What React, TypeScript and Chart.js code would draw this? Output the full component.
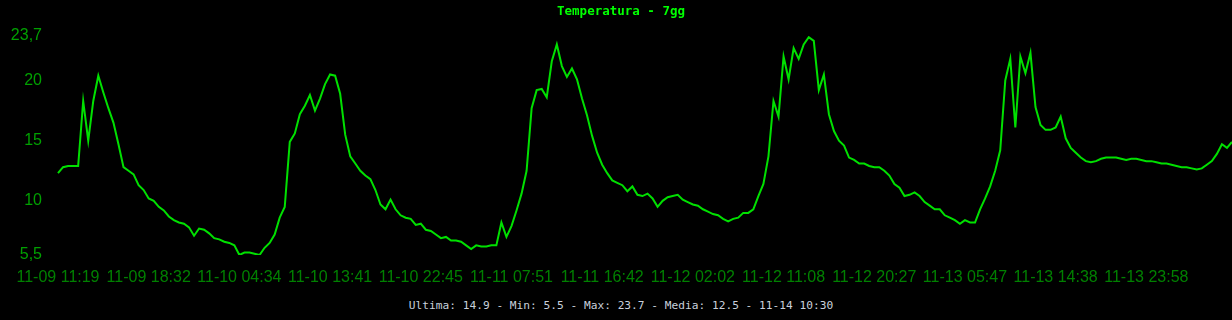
import React, { useEffect, useRef } from 'react';
import { Chart, registerables } from 'chart.js';

Chart.register(...registerables);

const TITLE = 'Temperatura - 7gg';
const FOOTER = 'Ultima: 14.9 - Min: 5.5 - Max: 23.7 - Media: 12.5 - 11-14 10:30';

const tickLabels = [
  '11-09 11:19', '11-09 18:32', '11-10 04:34', '11-10 13:41', '11-10 22:45',
  '11-11 07:51', '11-11 16:42', '11-12 02:02', '11-12 11:08', '11-12 20:27',
  '11-13 05:47', '11-13 14:38', '11-13 23:58',
];
const TICK_STEP = 18;

const temperature = [
  12.3, 12.8, 12.9, 12.9, 12.9, 18.3, 15.0, 18.3, 20.4, 19.0, 17.7, 16.5, 14.7, 12.8, 12.5, 12.2, 11.3, 10.9,
  10.2, 10.0, 9.5, 9.2, 8.7, 8.4, 8.2, 8.1, 7.8, 7.1, 7.7, 7.6, 7.3, 6.9, 6.8, 6.6, 6.5, 6.3,
  5.5, 5.7, 5.7, 5.6, 5.5, 6.1, 6.5, 7.2, 8.6, 9.5, 14.9, 15.6, 17.2, 17.9, 18.8, 17.5, 18.5, 19.7,
  20.5, 20.4, 18.9, 15.5, 13.7, 13.1, 12.5, 12.1, 11.8, 10.9, 9.7, 9.3, 10.1, 9.3, 8.8, 8.6, 8.5, 8.0,
  8.1, 7.6, 7.5, 7.2, 6.9, 7.0, 6.7, 6.7, 6.6, 6.3, 6.0, 6.3, 6.2, 6.2, 6.3, 6.3, 8.2, 7.0,
  7.9, 9.2, 10.6, 12.5, 17.7, 19.2, 19.3, 18.6, 21.6, 23.0, 21.2, 20.3, 21.0, 20.1, 18.5, 17.1, 15.4, 14.0,
  13.0, 12.3, 11.7, 11.5, 11.3, 10.8, 11.2, 10.5, 10.4, 10.6, 10.2, 9.5, 10.0, 10.3, 10.4, 10.5, 10.1, 9.9,
  9.7, 9.6, 9.3, 9.1, 8.9, 8.8, 8.5, 8.3, 8.5, 8.6, 9.0, 9.0, 9.3, 10.4, 11.4, 13.7, 18.3, 17.0,
  22.0, 20.1, 22.7, 21.8, 23.0, 23.6, 23.3, 19.2, 20.5, 17.2, 15.8, 15.0, 14.6, 13.6, 13.4, 13.1, 13.1, 12.9,
  12.8, 12.8, 12.5, 12.1, 11.4, 11.1, 10.4, 10.5, 10.7, 10.4, 9.9, 9.6, 9.3, 9.3, 8.8, 8.6, 8.4, 8.1,
  8.4, 8.2, 8.2, 9.3, 10.2, 11.2, 12.5, 14.2, 20.0, 21.8, 16.1, 22.0, 20.6, 22.3, 17.8, 16.3, 15.9, 15.9,
  16.1, 17.0, 15.2, 14.4, 14.0, 13.6, 13.3, 13.2, 13.3, 13.5, 13.6, 13.6, 13.6, 13.5, 13.4, 13.5, 13.5, 13.4,
  13.3, 13.3, 13.2, 13.1, 13.1, 13.0, 12.9, 12.8, 12.8, 12.7, 12.6, 12.7, 13.0, 13.3, 13.9, 14.7, 14.4, 14.9,
];

const yTicks = [5.5, 10, 15, 20, 23.7];
const Y_MIN = 5.5;
const Y_MAX = 23.7;

const labels = temperature.map((_, i) =>
  i % TICK_STEP === 0 ? tickLabels[i / TICK_STEP] ?? '' : ''
);

const CANVAS_W = 1222;
const CANVAS_H = 288;

export default function App() {
  const ref = useRef<HTMLCanvasElement | null>(null);

  useEffect(() => {
    if (!ref.current) return;
    const tickFont = { family: '"Liberation Sans", Arial, sans-serif', size: 16 };
    const chart = new Chart(ref.current, {
      type: 'line',
      data: {
        labels,
        datasets: [
          {
            data: temperature,
            borderColor: '#00e000',
            borderWidth: 2,
            pointRadius: 0,
            pointHoverRadius: 0,
            tension: 0,
            fill: false,
          },
        ],
      },
      options: {
        animation: false,
        responsive: false,
        maintainAspectRatio: false,
        layout: { padding: 0 },
        plugins: {
          legend: { display: false },
          tooltip: { enabled: false },
          title: {
            display: true,
            text: TITLE,
            color: '#00ff00',
            font: { family: '"DejaVu Sans Mono", monospace', size: 12.5, weight: 'bold' },
            padding: { top: 4, bottom: 17 },
          },
        },
        scales: {
          x: {
            grid: { display: false, drawTicks: false },
            border: { display: false },
            afterFit: (s: any) => {
              s.height = 33;
              s.paddingLeft = 0;
              s.paddingRight = 0;
            },
            ticks: {
              autoSkip: false,
              maxRotation: 0,
              minRotation: 0,
              color: '#008000',
              padding: 13,
              font: tickFont,
            },
          },
          y: {
            min: Y_MIN,
            max: Y_MAX,
            afterBuildTicks: (s: any) => {
              s.ticks = yTicks.map((v) => ({ value: v }));
            },
            afterFit: (s: any) => {
              s.width = 48;
            },
            grid: { display: false, drawTicks: false },
            border: { display: false },
            ticks: {
              padding: 16,
              color: '#00a000',
              font: tickFont,
              callback: (v: any) => String(v).replace('.', ','),
            },
          },
        },
      },
    } as any);
    return () => chart.destroy();
  }, []);

  return (
    <div style={{ position: 'fixed', inset: 0, background: '#000', overflow: 'hidden' }}>
      <div style={{ marginLeft: 10, width: CANVAS_W }}>
        <canvas
          ref={ref}
          width={CANVAS_W}
          height={CANVAS_H}
          style={{ display: 'block', width: CANVAS_W, height: CANVAS_H }}
        />
        <div
          style={{
            textAlign: 'center',
            color: '#c8d0dc',
            font: '11.2px "DejaVu Sans Mono", monospace',
            lineHeight: '14px',
            marginTop: 11,
            whiteSpace: 'nowrap',
          }}
        >
          {FOOTER}
        </div>
      </div>
    </div>
  );
}
